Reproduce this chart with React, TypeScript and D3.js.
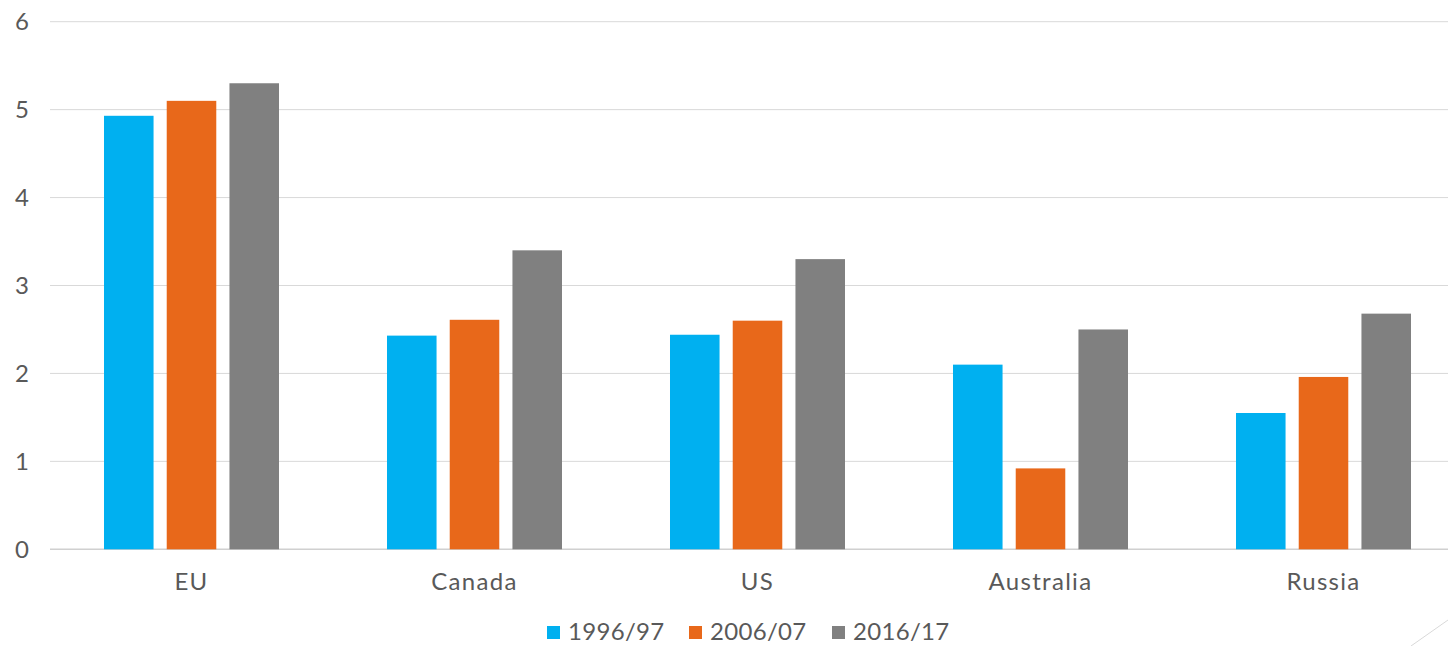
import React from "react";
import * as d3 from "d3";

const categories = ["EU", "Canada", "US", "Australia", "Russia"];
const seriesNames = ["1996/97", "2006/07", "2016/17"];
const s1996 = [4.93, 2.43, 2.44, 2.1, 1.55];
const s2006 = [5.1, 2.61, 2.6, 0.92, 1.96];
const s2016 = [5.3, 3.4, 3.3, 2.5, 2.68];
const yTicks = [0, 1, 2, 3, 4, 5, 6];
const colors = ["#00B0F0", "#E8681A", "#808080"];

const W = 1448;
const H = 646;
const FONT = "Lato, 'Open Sans', sans-serif";

export default function App() {
  const values = [s1996, s2006, s2016];
  const x0 = d3
    .scaleBand<string>()
    .domain(categories)
    .range([50, 50 + 5 * 283])
    .paddingInner(0.3816)
    .paddingOuter(0.1908);
  const x1 = d3
    .scaleBand<string>()
    .domain(seriesNames)
    .range([0, x0.bandwidth()])
    .paddingInner(0.21)
    .paddingOuter(0);
  const y = d3.scaleLinear().domain([0, 6]).range([549.3, 21.7]);

  const legendX = [547, 689, 832];

  return (
    <svg
      width={W}
      height={H}
      style={{ position: "absolute", left: 0, top: 0, background: "#fff" }}
      fontFamily={FONT}
    >
      {yTicks.map((t) => (
        <g key={t}>
          <line x1={50} x2={W} y1={y(t)} y2={y(t)} stroke={t === 0 ? "#D0D0D0" : "#D9D9D9"} strokeWidth={t === 0 ? 1.5 : 1} />
          <text x={29} y={y(t)} dy="0.36em" textAnchor="end" fontSize={24} fill="#595959">
            {t}
          </text>
        </g>
      ))}
      {categories.map((c, ci) => (
        <g key={c} transform={`translate(${x0(c)},0)`}>
          {seriesNames.map((s, si) => (
            <rect
              key={s}
              x={x1(s)}
              y={y(values[si][ci])}
              width={x1.bandwidth()}
              height={y(0) - y(values[si][ci])}
              fill={colors[si]}
            />
          ))}
          <text x={x0.bandwidth() / 2} y={590} textAnchor="middle" fontSize={24} letterSpacing={1.3} fill="#595959">
            {c}
          </text>
        </g>
      ))}
      {seriesNames.map((s, si) => (
        <g key={s}>
          <rect x={legendX[si]} y={626} width={13} height={13} fill={colors[si]} />
          <text x={legendX[si] + 21} y={640} fontSize={24} letterSpacing={0.3} fill="#595959">
            {s}
          </text>
        </g>
      ))}
      <line x1={1411} y1={646} x2={1448} y2={620} stroke="#D9D9D9" strokeWidth={1} />
    </svg>
  );
}
